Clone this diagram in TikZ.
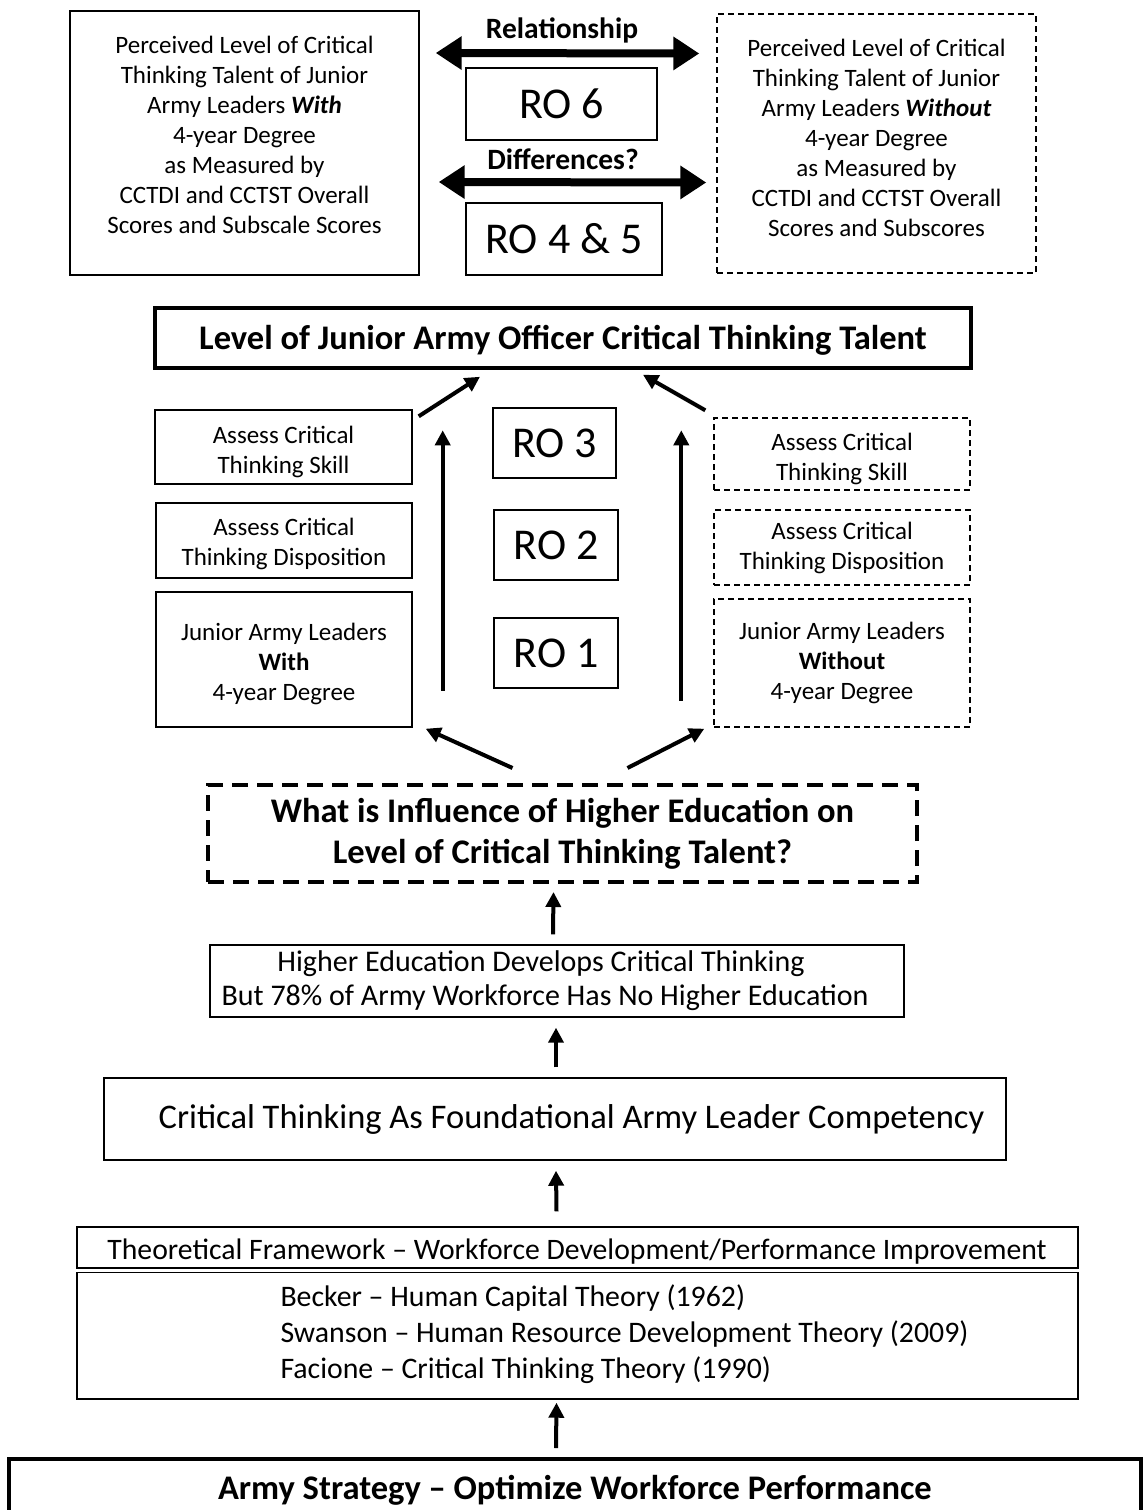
\documentclass[tikz,border=0pt]{standalone}
\usepackage{fontspec}
\setmainfont{Carlito}
\usetikzlibrary{arrows.meta, calc}

\begin{document}
\begin{tikzpicture}[
    x=1pt, y=-1pt,
    thinbox/.style={rectangle, draw, line width=1.4pt, align=center, inner sep=0pt},
    dashbox/.style={thinbox, dash pattern=on 6pt off 4pt},
    robox/.style={thinbox, font=\fontsize{44}{50}\selectfont},
    small/.style={font=\fontsize{25}{30}\selectfont},
    arrow/.style={-{Triangle[length=15pt, width=15pt]}, line width=4pt},
    bigarrow/.style={{Triangle[length=26pt, width=32pt]}-{Triangle[length=26pt, width=32pt]}, line width=8pt}
]
    \useasboundingbox (0,0) rectangle (1144,1510);

    % top row: perceived talent and RO 4-6
    \node[thinbox, small, minimum width=349, minimum height=264] (withbox) at (244.5,143)
        {Perceived Level of Critical\\Thinking Talent of Junior\\Army Leaders \textbf{\textit{With}}\\4-year Degree\\as Measured by\\CCTDI and CCTST Overall\\Scores and Subscale Scores\rule[-16pt]{0pt}{16pt}};
    \node[dashbox, small, minimum width=319, minimum height=259] (withoutbox) at (876.5,143.5)
        {Perceived Level of Critical\\Thinking Talent of Junior\\Army Leaders \textbf{\textit{Without}}\\4-year Degree\\as Measured by\\CCTDI and CCTST Overall\\Scores and Subscores\rule[-12pt]{0pt}{12pt}};
    \node[robox, minimum width=191, minimum height=72] (ro6) at (561.5,104) {RO 6};
    \node[robox, minimum width=196, minimum height=72] (ro45) at (564,239) {RO 4 \& 5};
    \node[font=\fontsize{29.5}{34}\bfseries] (rel) at (562,30) {Relationship};
    \node[font=\fontsize{29.5}{34}\bfseries] (diff) at (563,159) {Differences?};

    \draw[bigarrow] ($(withbox.east)+(16,-90)$) -- ($(withoutbox.west)+(-17,-90)$);
    \draw[bigarrow] ($(withbox.east)+(19,39)$) -- ($(withoutbox.west)+(-10,39)$);

    % level of talent
    \node[thinbox, line width=3.5pt, minimum width=816, minimum height=60,
        font=\fontsize{34.5}{40}\bfseries] (talent) at (563,338)
        {\rule{0pt}{28pt}Level of Junior Army Officer Critical Thinking Talent};

    % with degree
    \node[thinbox, small, minimum width=257, minimum height=74] (skillL) at (283.5,447)
        {\rule{0pt}{28pt}Assess Critical\\Thinking Skill};
    \node[thinbox, small, minimum width=256, minimum height=75] (dispL) at (284,540.5)
        {\rule{0pt}{24pt}Assess Critical\\Thinking Disposition};
    \node[thinbox, small, minimum width=256, minimum height=135] (juniorL) at (284,659.5)
        {\rule{0pt}{26pt}Junior Army Leaders\\\textbf{With}\\4-year Degree};

    % without degree
    \node[dashbox, small, minimum width=256, minimum height=72] (skillR) at (842,454)
        {\rule{0pt}{28pt}Assess Critical\\Thinking Skill};
    \node[dashbox, small, minimum width=256, minimum height=75] (dispR) at (842,547.5)
        {Assess Critical\\Thinking Disposition};
    \node[dashbox, small, minimum width=256, minimum height=128] (juniorR) at (842,663)
        {Junior Army Leaders\\\textbf{Without}\\4-year Degree};

    \node[robox, minimum width=123, minimum height=70] (ro3) at (554.5,443) {RO 3};
    \node[robox, minimum width=124, minimum height=70] (ro2) at (556,545) {RO 2};
    \node[robox, minimum width=124, minimum height=70] (ro1) at (556,653) {RO 1};

    \draw[arrow] ($(juniorL.south east)+(30,-37)$) -- ($(skillL.north east)+(30,21)$);
    \draw[arrow] ($(juniorR.south west)+(-32,-27)$) -- ($(skillR.north west)+(-32,13)$);
    \draw[arrow] ($(skillL.north east)+(6,7)$) -- ($(talent.south)+(-83,7)$);
    \draw[arrow] ($(skillR.north west)+(-8,-7)$) -- ($(talent.south)+(80,5)$);

    % research question
    \node[thinbox, line width=4pt, dash pattern=on 16pt off 9pt, minimum width=709, minimum height=97,
        font=\fontsize{34.5}{41}\bfseries] (question) at (562.5,833.5)
        {What is Influence of Higher Education on\\Level of Critical Thinking Talent?};

    \draw[arrow] ($(question.north)+(-50,-15)$) -- ($(juniorL.south east)+(13,1)$);
    \draw[arrow] ($(question.north)+(65,-15)$) -- ($(juniorR.south west)+(-9,1)$);

    % supporting chain
    \node[thinbox, font=\fontsize{30}{34}\selectfont, minimum width=694, minimum height=72] (highered) at (557,981)
        {\hspace*{-32pt}Higher Education Develops Critical Thinking\\\hspace*{-24pt}But 78\% of Army Workforce Has No Higher Education};
    \node[thinbox, font=\fontsize{34.5}{40}\selectfont, minimum width=902, minimum height=82] (competency) at (555,1119)
        {\hspace*{33pt}Critical Thinking As Foundational Army Leader Competency};
    \node[thinbox, minimum width=1001, minimum height=172] (theory) at (577.5,1313) {};
    \node[font=\fontsize{29.7}{34}\selectfont] (theoryhead) at (577,1252)
        {Theoretical Framework -- Workforce Development/Performance Improvement};
    \node[anchor=west, align=left, font=\fontsize{29.8}{36}\selectfont] (theorylist) at (277,1334)
        {Becker -- Human Capital Theory (1962)\\Swanson -- Human Resource Development Theory (2009)\\Facione -- Critical Thinking Theory (1990)};
    \draw[line width=1.4pt, double, double distance=3pt]
        ($(theory.north west)+(0,44)$) -- ($(theory.north east)+(0,44)$);

    \node[thinbox, line width=4pt, anchor=north, minimum width=1132, minimum height=62,
        font=\fontsize{34.5}{40}\bfseries] (strategy) at (575,1457)
        {Army Strategy -- Optimize Workforce Performance};

    \draw[arrow] ($(highered.north)+(-4,-10)$) -- ($(question.south)+(-9,8)$);
    \draw[arrow] ($(competency.north)+(1,-10)$) -- ($(highered.south)+(-1,10)$);
    \draw[arrow] ($(theory.north)+(-21,-15)$) -- ($(competency.south)+(1,10)$);
    \draw[arrow] ($(strategy.north)+(-19,-9)$) -- ($(theory.south)+(-21,3)$);
\end{tikzpicture}
\end{document}
